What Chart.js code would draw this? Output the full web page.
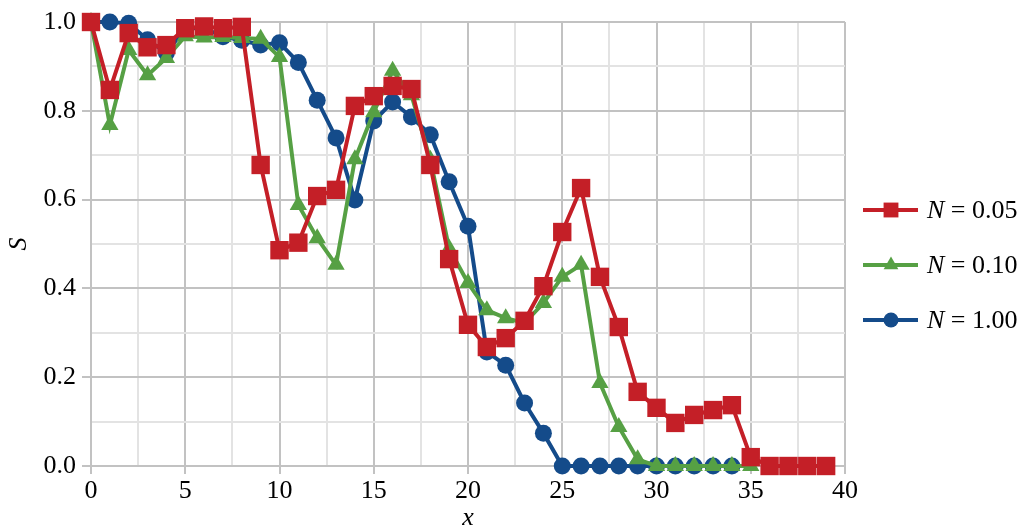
<!DOCTYPE html>
<html>
<head>
<meta charset="utf-8">
<script src="https://cdn.jsdelivr.net/npm/chart.js@4.4.1/dist/chart.umd.min.js"></script>
<style>
  html, body { margin: 0; padding: 0; background: #ffffff; }
  #wrap { width: 1027px; height: 526px; position: relative; }
</style>
</head>
<body>
<div id="wrap"><canvas id="c" width="1027" height="526"></canvas></div>
<script>
// Position along the sample axis
const xValues = [0, 1, 2, 3, 4, 5, 6, 7, 8, 9, 10, 11, 12, 13, 14, 15, 16, 17, 18, 19,
                 20, 21, 22, 23, 24, 25, 26, 27, 28, 29, 30, 31, 32, 33, 34, 35, 36, 37, 38, 39];

// S for N = 0.05
const sN005 = [1.0, 0.847, 0.975, 0.943, 0.948, 0.986, 0.99, 0.986, 0.989, 0.678,
               0.486, 0.503, 0.608, 0.622, 0.811, 0.833, 0.856, 0.849, 0.678, 0.466,
               0.318, 0.268, 0.288, 0.327, 0.405, 0.527, 0.626, 0.426, 0.313, 0.167,
               0.131, 0.097, 0.115, 0.126, 0.137, 0.02, 0, 0, 0, 0];

// S for N = 0.10
const sN010 = [1.0, 0.768, 0.937, 0.88, 0.919, 0.968, 0.965, 0.966, 0.964, 0.962,
               0.921, 0.588, 0.513, 0.453, 0.691, 0.797, 0.89, 0.835, 0.69, 0.49,
               0.412, 0.351, 0.333, 0.322, 0.367, 0.426, 0.453, 0.187, 0.088, 0.015,
               0, 0, 0, 0, 0, 0];

// S for N = 1.00
const sN100 = [1.0, 1.0, 0.997, 0.96, 0.93, 0.986, 0.986, 0.967, 0.959, 0.948,
               0.953, 0.909, 0.824, 0.739, 0.599, 0.777, 0.82, 0.786, 0.746, 0.64,
               0.54, 0.257, 0.227, 0.142, 0.074, 0, 0, 0, 0, 0,
               0, 0, 0, 0, 0];

const seriesNames = ['0.05', '0.10', '1.00'];
const seriesColors = ['#c41f27', '#56a044', '#144b8a'];
const seriesMarkers = ['rect', 'triangle', 'circle'];
const markerRadius = [13, 10, 8.5];

const SERIF = "'Liberation Serif', 'Times New Roman', Times, serif";

function toPoints(ys) {
  return ys.map((y, i) => ({ x: xValues[i], y: y }));
}

const allSeries = [sN005, sN010, sN100];

const datasets = allSeries.map((ys, i) => ({
  label: 'N = ' + seriesNames[i],
  data: toPoints(ys),
  borderColor: seriesColors[i],
  backgroundColor: seriesColors[i],
  borderWidth: 4,
  pointStyle: seriesMarkers[i],
  pointRadius: markerRadius[i],
  pointHoverRadius: markerRadius[i],
  pointBorderWidth: 0,
  pointBackgroundColor: seriesColors[i],
  tension: 0,
  fill: false,
  clip: 14
}));

const isMultiple = (v, step) => Math.abs(v / step - Math.round(v / step)) < 1e-6;

// Legend at the right: line + marker, then "N = value" with italic N
const sideLegend = {
  id: 'sideLegend',
  afterDraw(chart) {
    const ctx = chart.ctx;
    const rows = [210, 265, 320];
    const lineX0 = 863, lineX1 = 918, markX = 891, textX = 927;
    const legendRadius = [10.5, 8.5, 7.5];
    ctx.save();
    allSeries.forEach((_, i) => {
      const y = rows[i];
      ctx.strokeStyle = seriesColors[i];
      ctx.lineWidth = 4;
      ctx.beginPath();
      ctx.moveTo(lineX0, y);
      ctx.lineTo(lineX1, y);
      ctx.stroke();
      ctx.fillStyle = seriesColors[i];
      Chart.helpers.drawPoint(ctx, {
        pointStyle: seriesMarkers[i],
        radius: legendRadius[i],
        borderWidth: 0,
        rotation: 0
      }, markX, y);
      ctx.fillStyle = '#000';
      ctx.textBaseline = 'middle';
      ctx.textAlign = 'left';
      ctx.font = 'italic 26px ' + SERIF;
      ctx.fillText('N', textX, y + 1);
      const w = ctx.measureText('N').width;
      ctx.font = '26px ' + SERIF;
      ctx.fillText(' = ' + seriesNames[i], textX + w, y + 1);
    });
    ctx.restore();
  }
};

new Chart(document.getElementById('c'), {
  type: 'line',
  data: { datasets },
  options: {
    responsive: false,
    devicePixelRatio: 1,
    animation: false,
    layout: { padding: { left: 0, right: 182, top: 22, bottom: 0 } },
    plugins: {
      legend: { display: false },
      tooltip: { enabled: false }
    },
    scales: {
      x: {
        type: 'linear',
        min: 0,
        max: 40,
        afterFit(scale) { scale.height = 60; },
        ticks: {
          stepSize: 2.5,
          autoSkip: false,
          maxRotation: 0,
          padding: 2,
          color: '#000',
          font: { family: SERIF, size: 26 },
          callback: (v) => isMultiple(v, 5) ? String(v) : ''
        },
        grid: {
          color: (c) => isMultiple(c.tick.value, 5) ? '#c2c2c2' : '#e3e3e3',
          lineWidth: 2,
          tickLength: 8,
          tickColor: (c) => isMultiple(c.tick.value, 5) ? '#c2c2c2' : 'rgba(0,0,0,0)',
          tickWidth: 2
        },
        border: { color: '#c2c2c2', width: 2 },
        title: {
          display: true,
          text: 'x',
          color: '#000',
          font: { family: SERIF, size: 26, style: 'italic' },
          padding: { top: 0, bottom: -8 }
        }
      },
      y: {
        min: 0,
        max: 1,
        afterFit(scale) { scale.width = 91; },
        ticks: {
          stepSize: 0.1,
          autoSkip: false,
          padding: 6,
          color: '#000',
          font: { family: SERIF, size: 26 },
          callback: (v) => isMultiple(v, 0.2) ? Number(v).toFixed(1) : ''
        },
        grid: {
          color: (c) => isMultiple(c.tick.value, 0.2) ? '#c2c2c2' : '#e3e3e3',
          lineWidth: 2,
          tickLength: 9,
          tickColor: (c) => isMultiple(c.tick.value, 0.2) ? '#c2c2c2' : 'rgba(0,0,0,0)',
          tickWidth: 2
        },
        border: { color: '#c2c2c2', width: 2 },
        title: {
          display: true,
          text: 'S',
          color: '#000',
          font: { family: SERIF, size: 26, style: 'italic' },
          padding: { top: 4, bottom: 0 }
        }
      }
    }
  },
  plugins: [sideLegend]
});
</script>
</body>
</html>
